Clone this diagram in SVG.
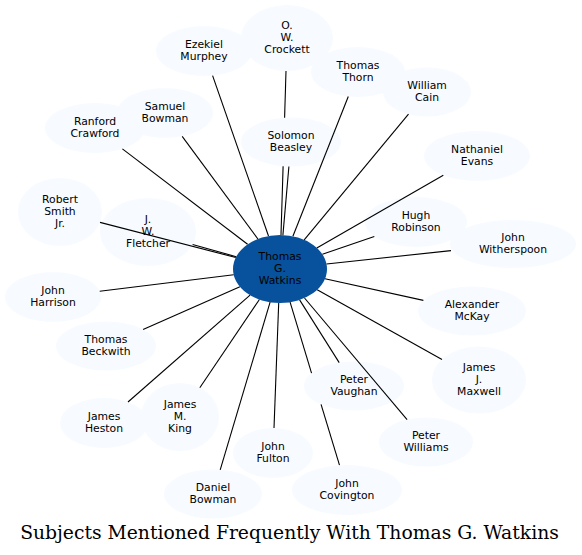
<svg xmlns="http://www.w3.org/2000/svg" width="582" height="555" viewBox="0 0 582 555">
<style>
.n ellipse{fill:#f7fbff;stroke:none}
.c ellipse{fill:#08519c;stroke:none}
text{font-family:"DejaVu Sans","Liberation Sans",sans-serif;font-size:10.8px;fill:#000;text-anchor:middle}
.e line{stroke:#000;stroke-width:1.1}
.title{font-family:"DejaVu Serif","Liberation Serif",serif;font-size:18.75px}
</style>
<rect width="582" height="555" fill="#fff"/>
<g id="nodes">
<g id="n-ezekiel" class="n"><ellipse cx="204" cy="51" rx="48" ry="25"/><text><tspan x="204" y="48">Ezekiel</tspan><tspan x="204" y="60">Murphey</tspan></text></g>
<g id="n-crockett" class="n"><ellipse cx="287" cy="38" rx="46" ry="33"/><text><tspan x="287" y="29">O.</tspan><tspan x="287" y="41">W.</tspan><tspan x="287" y="53">Crockett</tspan></text></g>
<g id="n-thorn" class="n"><ellipse cx="358" cy="72" rx="47" ry="25"/><text><tspan x="358" y="69">Thomas</tspan><tspan x="358" y="81">Thorn</tspan></text></g>
<g id="n-cain" class="n"><ellipse cx="427" cy="92" rx="44" ry="24.5"/><text><tspan x="427" y="89">William</tspan><tspan x="427" y="101">Cain</tspan></text></g>
<g id="n-sbowman" class="n"><ellipse cx="165" cy="113" rx="48" ry="25"/><text><tspan x="165" y="110">Samuel</tspan><tspan x="165" y="122">Bowman</tspan></text></g>
<g id="n-crawford" class="n"><ellipse cx="95" cy="128" rx="50" ry="25"/><text><tspan x="95" y="125">Ranford</tspan><tspan x="95" y="137">Crawford</tspan></text></g>
<g id="n-beasley" class="n"><ellipse cx="291" cy="142" rx="50" ry="24.5"/><text><tspan x="291" y="139">Solomon</tspan><tspan x="291" y="151">Beasley</tspan></text></g>
<g id="n-evans" class="n"><ellipse cx="477" cy="156" rx="53" ry="25"/><text><tspan x="477" y="153">Nathaniel</tspan><tspan x="477" y="165">Evans</tspan></text></g>
<g id="n-smith" class="n"><ellipse cx="60" cy="212" rx="42" ry="34"/><text><tspan x="60" y="203">Robert</tspan><tspan x="60" y="215">Smith</tspan><tspan x="60" y="227">Jr.</tspan></text></g>
<g id="n-robinson" class="n"><ellipse cx="416" cy="222" rx="51" ry="25"/><text><tspan x="416" y="219">Hugh</tspan><tspan x="416" y="231">Robinson</tspan></text></g>
<g id="n-fletcher" class="n"><ellipse cx="148" cy="232" rx="48" ry="34"/><text><tspan x="148" y="223">J.</tspan><tspan x="148" y="235">W.</tspan><tspan x="148" y="247">Fletcher</tspan></text></g>
<g id="n-witherspoon" class="n"><ellipse cx="513" cy="244" rx="63" ry="24"/><text><tspan x="513" y="241">John</tspan><tspan x="513" y="253">Witherspoon</tspan></text></g>
<g id="n-harrison" class="n"><ellipse cx="53" cy="297" rx="48" ry="25"/><text><tspan x="53" y="294">John</tspan><tspan x="53" y="306">Harrison</tspan></text></g>
<g id="n-mckay" class="n"><ellipse cx="472" cy="311" rx="54" ry="24.5"/><text><tspan x="472" y="308">Alexander</tspan><tspan x="472" y="320">McKay</tspan></text></g>
<g id="n-beckwith" class="n"><ellipse cx="106" cy="346" rx="50" ry="24.5"/><text><tspan x="106" y="343">Thomas</tspan><tspan x="106" y="355">Beckwith</tspan></text></g>
<g id="n-maxwell" class="n"><ellipse cx="479" cy="380" rx="47" ry="33.5"/><text><tspan x="479" y="371">James</tspan><tspan x="479" y="383">J.</tspan><tspan x="479" y="395">Maxwell</tspan></text></g>
<g id="n-vaughan" class="n"><ellipse cx="354" cy="386" rx="50" ry="24.5"/><text><tspan x="354" y="383">Peter</tspan><tspan x="354" y="395">Vaughan</tspan></text></g>
<g id="n-king" class="n"><ellipse cx="180" cy="417" rx="39" ry="34"/><text><tspan x="180" y="408">James</tspan><tspan x="180" y="420">M.</tspan><tspan x="180" y="432">King</tspan></text></g>
<g id="n-heston" class="n"><ellipse cx="104" cy="423" rx="44" ry="25"/><text><tspan x="104" y="420">James</tspan><tspan x="104" y="432">Heston</tspan></text></g>
<g id="n-williams" class="n"><ellipse cx="426" cy="442" rx="47" ry="24.5"/><text><tspan x="426" y="439">Peter</tspan><tspan x="426" y="451">Williams</tspan></text></g>
<g id="n-fulton" class="n"><ellipse cx="273" cy="453" rx="40" ry="25"/><text><tspan x="273" y="450">John</tspan><tspan x="273" y="462">Fulton</tspan></text></g>
<g id="n-covington" class="n"><ellipse cx="347" cy="490" rx="55" ry="25"/><text><tspan x="347" y="487">John</tspan><tspan x="347" y="499">Covington</tspan></text></g>
<g id="n-dbowman" class="n"><ellipse cx="213" cy="494" rx="49" ry="24.5"/><text><tspan x="213" y="491">Daniel</tspan><tspan x="213" y="503">Bowman</tspan></text></g>
<g id="n-watkins" class="c"><ellipse cx="280" cy="269" rx="47" ry="34"/><text><tspan x="280" y="260">Thomas</tspan><tspan x="280" y="272">G.</tspan><tspan x="280" y="284">Watkins</tspan></text></g>
</g>
<g id="connectors" class="e">
<line x1="268.5" y1="236" x2="212.6" y2="75.6"/>
<line x1="281" y1="235" x2="283.1" y2="166.3"/>
<line x1="284.6" y1="117.7" x2="286" y2="71"/>
<line x1="282.9" y1="235.1" x2="288.9" y2="166.5"/>
<line x1="257.9" y1="239" x2="182.2" y2="136.3"/>
<line x1="247.6" y1="244.3" x2="122.4" y2="148.9"/>
<line x1="235.75" y1="257.5" x2="100" y2="222.4"/>
<line x1="236.2" y1="256.7" x2="192.6" y2="244.5"/>
<line x1="292.9" y1="236.3" x2="348.3" y2="96.5"/>
<line x1="304.2" y1="239.85" x2="408.5" y2="114.2"/>
<line x1="316.8" y1="247.9" x2="443.3" y2="175.3"/>
<line x1="322.4" y1="254.35" x2="374.3" y2="236.4"/>
<line x1="326.5" y1="264" x2="451" y2="250.6"/>
<line x1="233.7" y1="274.7" x2="99.7" y2="291.2"/>
<line x1="239.9" y1="286.7" x2="143.1" y2="329.6"/>
<line x1="250.05" y1="295.2" x2="128" y2="402"/>
<line x1="259.4" y1="299.5" x2="199.8" y2="387.7"/>
<line x1="278.7" y1="303" x2="274" y2="428"/>
<line x1="270.1" y1="302.2" x2="220.2" y2="469.8"/>
<line x1="325" y1="278.8" x2="423.35" y2="300.36"/>
<line x1="317.2" y1="289.8" x2="442" y2="359.4"/>
<line x1="299.6" y1="299.9" x2="339.2" y2="362.6"/>
<line x1="304.5" y1="298" x2="407.1" y2="419.6"/>
<line x1="290.1" y1="302.2" x2="311.55" y2="373.1"/>
<line x1="321.05" y1="404.4" x2="339.5" y2="465.2"/>
</g>
<text class="title" x="289.5" y="539">Subjects Mentioned Frequently With Thomas G. Watkins</text>
</svg>
